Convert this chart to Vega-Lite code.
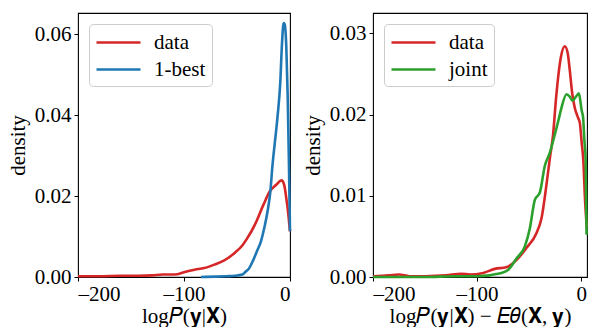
{
  "$schema": "https://vega.github.io/schema/vega-lite/v6.json",
  "padding": {"left": 6, "top": 12, "right": 0, "bottom": 0},
  "background": "white",
  "config": {
    "font": "Liberation Serif",
    "view": {"stroke": "black", "strokeWidth": 1.1},
    "axis": {
      "grid": false, "domain": false,
      "labelFont": "Liberation Serif", "titleFont": "Liberation Serif",
      "labelFontSize": 21, "titleFontSize": 21, "titleFontWeight": "normal",
      "labelColor": "black", "titleColor": "black",
      "tickColor": "black", "tickSize": 4, "tickWidth": 1,
      "labelPadding": 3
    },
    "legend": {
      "labelFont": "Liberation Serif", "labelFontSize": 21, "labelColor": "black",
      "symbolType": "M-1,0H3", "symbolSize": 484, "symbolStrokeWidth": 2.6,
      "labelOffset": 34, "rowPadding": 4, "padding": 6,
      "fillColor": "white", "strokeColor": "#cccccc", "cornerRadius": 4
    }
  },
  "datasets": {
    "left": [
      {"x": -200, "d": 0.0002, "s": "data"},
      {"x": -180, "d": 0.0002, "s": "data"},
      {"x": -160, "d": 0.0003, "s": "data"},
      {"x": -143, "d": 0.0003, "s": "data"},
      {"x": -130, "d": 0.0004, "s": "data"},
      {"x": -120, "d": 0.0006, "s": "data"},
      {"x": -112, "d": 0.0006, "s": "data"},
      {"x": -106, "d": 0.0007, "s": "data"},
      {"x": -100, "d": 0.0012, "s": "data"},
      {"x": -90, "d": 0.0018, "s": "data"},
      {"x": -81, "d": 0.0022, "s": "data"},
      {"x": -71, "d": 0.0031, "s": "data"},
      {"x": -62, "d": 0.0041, "s": "data"},
      {"x": -52, "d": 0.006, "s": "data"},
      {"x": -45, "d": 0.0078, "s": "data"},
      {"x": -41, "d": 0.0093, "s": "data"},
      {"x": -33, "d": 0.013, "s": "data"},
      {"x": -25, "d": 0.0179, "s": "data"},
      {"x": -19, "d": 0.0212, "s": "data"},
      {"x": -13, "d": 0.0228, "s": "data"},
      {"x": -8, "d": 0.0239, "s": "data"},
      {"x": -5.5, "d": 0.0228, "s": "data"},
      {"x": -3.5, "d": 0.0195, "s": "data"},
      {"x": -2, "d": 0.0165, "s": "data"},
      {"x": 0, "d": 0.0113, "s": "data"},
      {"x": -84, "d": 0.0, "s": "1-best"},
      {"x": -70, "d": 0.0001, "s": "1-best"},
      {"x": -60, "d": 0.0002, "s": "1-best"},
      {"x": -52, "d": 0.0003, "s": "1-best"},
      {"x": -45, "d": 0.0006, "s": "1-best"},
      {"x": -42, "d": 0.0013, "s": "1-best"},
      {"x": -39, "d": 0.002, "s": "1-best"},
      {"x": -35, "d": 0.004, "s": "1-best"},
      {"x": -31, "d": 0.0065, "s": "1-best"},
      {"x": -27.4, "d": 0.0088, "s": "1-best"},
      {"x": -24.3, "d": 0.0121, "s": "1-best"},
      {"x": -21, "d": 0.0165, "s": "1-best"},
      {"x": -18.6, "d": 0.021, "s": "1-best"},
      {"x": -16.4, "d": 0.028, "s": "1-best"},
      {"x": -14.2, "d": 0.0335, "s": "1-best"},
      {"x": -12, "d": 0.039, "s": "1-best"},
      {"x": -9.2, "d": 0.048, "s": "1-best"},
      {"x": -7.5, "d": 0.058, "s": "1-best"},
      {"x": -6, "d": 0.0628, "s": "1-best"},
      {"x": -5, "d": 0.0625, "s": "1-best"},
      {"x": -3.5, "d": 0.057, "s": "1-best"},
      {"x": -2.2, "d": 0.045, "s": "1-best"},
      {"x": -1, "d": 0.028, "s": "1-best"},
      {"x": 0, "d": 0.0113, "s": "1-best"}
    ],
    "right": [
      {"x": -200, "d": 0.0001, "s": "data"},
      {"x": -185, "d": 0.0002, "s": "data"},
      {"x": -175, "d": 0.0003, "s": "data"},
      {"x": -165, "d": 0.0001, "s": "data"},
      {"x": -150, "d": 0.0001, "s": "data"},
      {"x": -130, "d": 0.0002, "s": "data"},
      {"x": -115, "d": 0.0004, "s": "data"},
      {"x": -107, "d": 0.0003, "s": "data"},
      {"x": -94, "d": 0.0005, "s": "data"},
      {"x": -83, "d": 0.001, "s": "data"},
      {"x": -72, "d": 0.0012, "s": "data"},
      {"x": -62, "d": 0.0021, "s": "data"},
      {"x": -52.5, "d": 0.0036, "s": "data"},
      {"x": -43, "d": 0.0054, "s": "data"},
      {"x": -38, "d": 0.0073, "s": "data"},
      {"x": -33.3, "d": 0.0114, "s": "data"},
      {"x": -30, "d": 0.0147, "s": "data"},
      {"x": -27, "d": 0.0175, "s": "data"},
      {"x": -24, "d": 0.0222, "s": "data"},
      {"x": -19.6, "d": 0.027, "s": "data"},
      {"x": -15.7, "d": 0.0284, "s": "data"},
      {"x": -13, "d": 0.0276, "s": "data"},
      {"x": -10.9, "d": 0.0254, "s": "data"},
      {"x": -8.5, "d": 0.0225, "s": "data"},
      {"x": -6.1, "d": 0.0208, "s": "data"},
      {"x": -3, "d": 0.0196, "s": "data"},
      {"x": -1.3, "d": 0.019, "s": "data"},
      {"x": 0.5, "d": 0.0165, "s": "data"},
      {"x": 2, "d": 0.0145, "s": "data"},
      {"x": 3.8, "d": 0.0093, "s": "data"},
      {"x": 5.5, "d": 0.006, "s": "data"},
      {"x": -200, "d": 0.0, "s": "joint"},
      {"x": -150, "d": 0.0, "s": "joint"},
      {"x": -120, "d": 0.0001, "s": "joint"},
      {"x": -100, "d": 0.0001, "s": "joint"},
      {"x": -88, "d": 0.0002, "s": "joint"},
      {"x": -80, "d": 0.0004, "s": "joint"},
      {"x": -76.5, "d": 0.0005, "s": "joint"},
      {"x": -70, "d": 0.0009, "s": "joint"},
      {"x": -62, "d": 0.0023, "s": "joint"},
      {"x": -54, "d": 0.0038, "s": "joint"},
      {"x": -49.3, "d": 0.006, "s": "joint"},
      {"x": -44.5, "d": 0.0095, "s": "joint"},
      {"x": -39.7, "d": 0.0104, "s": "joint"},
      {"x": -34.9, "d": 0.0137, "s": "joint"},
      {"x": -30.1, "d": 0.0153, "s": "joint"},
      {"x": -26, "d": 0.0172, "s": "joint"},
      {"x": -22, "d": 0.0192, "s": "joint"},
      {"x": -19, "d": 0.0208, "s": "joint"},
      {"x": -14, "d": 0.0225, "s": "joint"},
      {"x": -11, "d": 0.0222, "s": "joint"},
      {"x": -8.3, "d": 0.0217, "s": "joint"},
      {"x": -5, "d": 0.0222, "s": "joint"},
      {"x": -2.2, "d": 0.0226, "s": "joint"},
      {"x": 0.5, "d": 0.0205, "s": "joint"},
      {"x": 1.9, "d": 0.0196, "s": "joint"},
      {"x": 3, "d": 0.017, "s": "joint"},
      {"x": 4.3, "d": 0.0145, "s": "joint"},
      {"x": 5.2, "d": 0.0052, "s": "joint"}
    ]
  },
  "spacing": 5,
  "resolve": {"scale": {"color": "independent"}},
  "hconcat": [
    {
      "width": 212, "height": 264,
      "data": {"name": "left"},
      "mark": {"type": "line", "strokeWidth": 2.6, "interpolate": "monotone"},
      "encoding": {
        "x": {"field": "x", "type": "quantitative",
              "scale": {"domain": [-200, 0], "nice": false, "zero": false},
              "axis": {"values": [-200, -100, 0], "labelExpr": "replace(datum.label, '−', '–')", "labelPadding": 2, "title": "log𝑃(𝐲|𝐗)", "titlePadding": 1}},
        "y": {"field": "d", "type": "quantitative",
              "scale": {"domain": [0, 0.0653], "nice": false},
              "axis": {"values": [0, 0.02, 0.04, 0.06], "format": ".2f", "title": "density", "titlePadding": 6}},
        "color": {"field": "s", "type": "nominal",
                  "scale": {"domain": ["data", "1-best"], "range": ["#d62728", "#1f77b4"]},
                  "legend": {"orient": "none", "legendX": 11, "legendY": 11, "title": null}}
      }
    },
    {
      "width": 214, "height": 264,
      "data": {"name": "right"},
      "mark": {"type": "line", "strokeWidth": 2.6, "interpolate": "monotone"},
      "encoding": {
        "x": {"field": "x", "type": "quantitative",
              "scale": {"domain": [-200, 5.6], "nice": false, "zero": false},
              "axis": {"values": [-200, -100, 0], "labelExpr": "replace(datum.label, '−', '–')", "labelPadding": 2, "title": "log𝑃(𝐲|𝐗) − 𝐸𝜃(𝐗, 𝐲)", "titlePadding": 1}},
        "y": {"field": "d", "type": "quantitative",
              "scale": {"domain": [0, 0.0325], "nice": false},
              "axis": {"values": [0, 0.01, 0.02, 0.03], "format": ".2f", "title": "density", "titlePadding": 6}},
        "color": {"field": "s", "type": "nominal",
                  "scale": {"domain": ["data", "joint"], "range": ["#d62728", "#2ca02c"]},
                  "legend": {"orient": "none", "legendX": 11, "legendY": 11, "title": null}}
      }
    }
  ]
}
